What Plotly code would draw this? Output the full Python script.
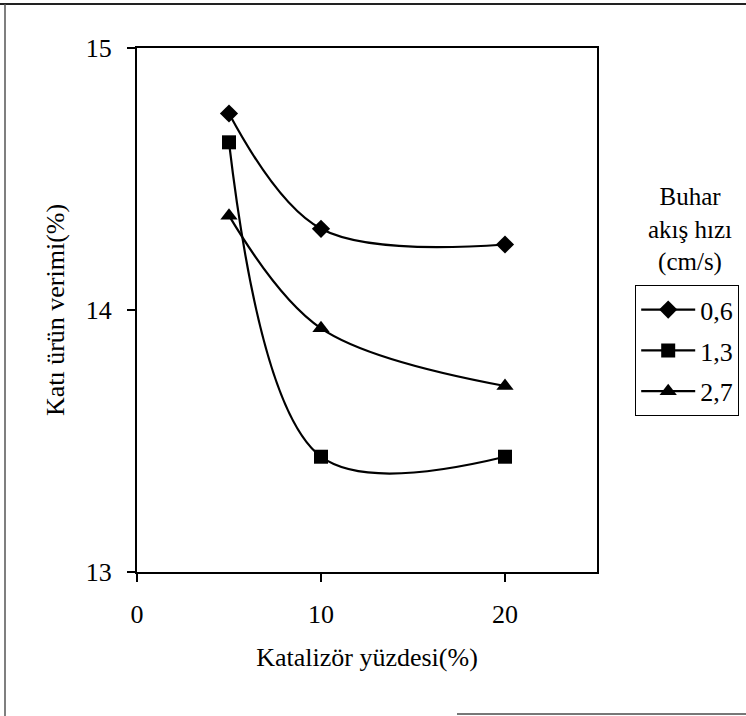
import plotly.graph_objects as go

# Catalyst percentage (x) and solid product yield (%) for three steam flow rates
katalizor = [5, 10, 20]
seri_adlari = ["0,6", "1,3", "2,7"]
verim_06 = [14.75, 14.31, 14.25]
verim_13 = [14.64, 13.44, 13.44]
verim_27 = [14.36, 13.93, 13.71]
x_ticks = [0, 10, 20]
y_ticks = [13, 14, 15]

FONT = "Times New Roman, Liberation Serif, DejaVu Serif, serif"
W, H = 746, 716
L, R, T, B = 137, 149, 48, 144
pw, ph = W - L - R, H - T - B


def px(x):
    return (x - L) / pw


def py(y):
    return (H - B - y) / ph


fig = go.Figure()
symbols = ["diamond", "square", "triangle-up"]
sizes = [14, 14, 15]
for i, (name, vals) in enumerate(zip(seri_adlari, [verim_06, verim_13, verim_27])):
    fig.add_trace(go.Scatter(
        x=katalizor, y=vals, name=name, legendgroup=name,
        mode="lines+markers",
        line=dict(color="black", width=2.2, shape="spline", smoothing=1),
        marker=dict(symbol=symbols[i], size=sizes[i], color="black"),
    ))

axis_common = dict(
    showline=True, linecolor="black", linewidth=2, mirror=True,
    ticks="outside", ticklen=8, tickcolor="black", tickwidth=1.5,
    showgrid=False, zeroline=False,
    tickfont=dict(family=FONT, size=26, color="black"),
)

fig.update_xaxes(
    range=[0, 25], tickvals=x_ticks, ticktext=[str(v) for v in x_ticks],
    ticklabelstandoff=10,
    title=dict(text="Katalizör yüzdesi(%)", font=dict(family=FONT, size=26, color="black"), standoff=20),
    **axis_common,
)
fig.update_yaxes(
    range=[13, 15], tickvals=y_ticks, ticktext=[str(v) for v in y_ticks],
    ticklabelstandoff=10,
    title=dict(text="Katı ürün verimi(%)", font=dict(family=FONT, size=26, color="black"), standoff=14),
    **axis_common,
)

fig.add_annotation(
    text="Buhar<br>akış hızı<br>(cm/s)", xref="paper", yref="paper",
    x=px(690), y=py(230), xanchor="center", yanchor="middle", showarrow=False,
    font=dict(family=FONT, size=25, color="black"), align="center",
)

# thin page border lines around the figure
fig.add_shape(type="line", xref="paper", yref="paper", x0=px(0), x1=px(746), y0=py(4), y1=py(4),
              line=dict(color="#222", width=2))
fig.add_shape(type="line", xref="paper", yref="paper", x0=px(5), x1=px(5), y0=py(4), y1=py(716),
              line=dict(color="#555", width=1.5))
fig.add_shape(type="line", xref="paper", yref="paper", x0=px(457), x1=px(746), y0=py(714), y1=py(714),
              line=dict(color="#777", width=2))

fig.update_layout(
    width=W, height=H,
    margin=dict(l=L, r=R, t=T, b=B, autoexpand=False),
    paper_bgcolor="white", plot_bgcolor="white",
    font=dict(family=FONT, color="black"),
    showlegend=True,
    legend=dict(
        x=px(635), y=py(285), xanchor="left", yanchor="top",
        bordercolor="black", borderwidth=1.2, bgcolor="white",
        font=dict(family=FONT, size=26, color="black"),
        tracegroupgap=4, traceorder="grouped",
        itemwidth=54,
    ),
)

fig.write_html("out.html")
